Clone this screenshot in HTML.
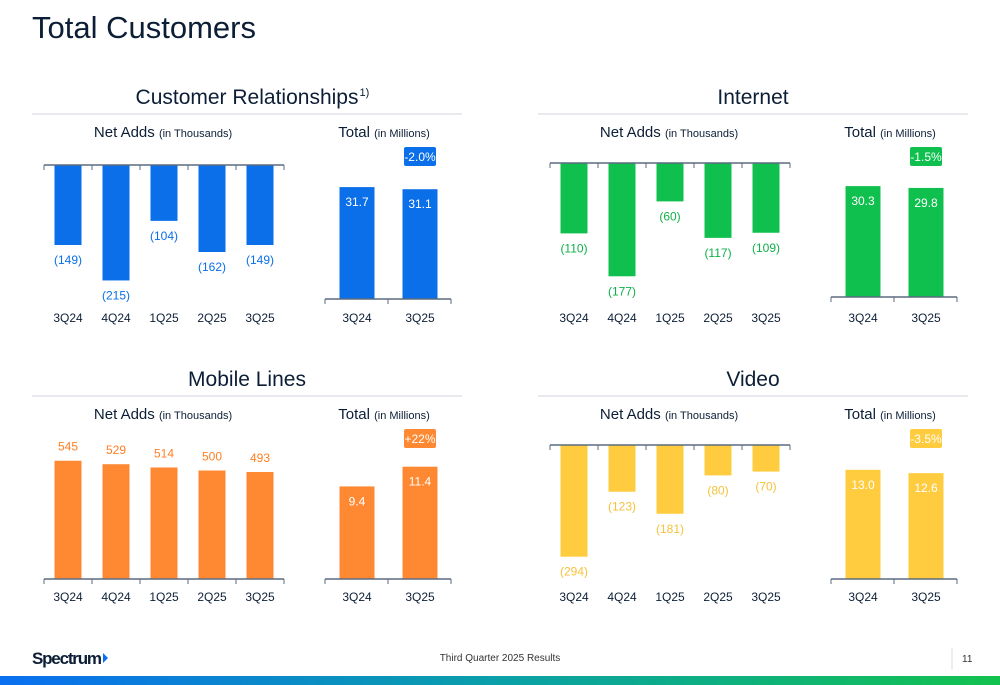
<!DOCTYPE html>
<html><head><meta charset="utf-8"><style>
body{margin:0;background:#fff;width:1000px;height:685px;overflow:hidden;font-family:"Liberation Sans",sans-serif}
svg{display:block}
svg text{font-family:"Liberation Sans",sans-serif}
</style></head><body>
<svg id="s" width="1000" height="685" viewBox="0 0 1000 685">
<defs><linearGradient id="g" x1="0" x2="1"><stop offset="0" stop-color="#0a6ff0"/><stop offset="0.5" stop-color="#0aa0a8"/><stop offset="1" stop-color="#12c24e"/></linearGradient></defs>
<text x="32" y="38" font-size="31" fill="#0c1e36">Total Customers</text>
<text x="32" y="664" font-size="17" font-weight="bold" fill="#0c1e36" textLength="70">Spectrum</text>
<polygon points="103,653 108,658 103,663" fill="#0a6ff0"/>
<text x="500" y="661" font-size="10" fill="#333" text-anchor="middle">Third Quarter 2025 Results</text>
<line x1="952" y1="648" x2="952" y2="670" stroke="#ddd"/>
<text x="962" y="662" font-size="10" fill="#333">11</text>
<rect x="0" y="676" width="1000" height="9" fill="url(#g)"/>
</svg>
<script>
const quarters=["3Q24","4Q24","1Q25","2Q25","3Q25"];
const totalQuarters=["3Q24","3Q25"];
const relAdds=[-149,-215,-104,-162,-149];
const relTotal=[31.7,31.1];
const netAdds=[-110,-177,-60,-117,-109];
const netTotal=[30.3,29.8];
const mobAdds=[545,529,514,500,493];
const mobTotal=[9.4,11.4];
const vidAdds=[-294,-123,-181,-80,-70];
const vidTotal=[13.0,12.6];
const badges=["-2.0%","-1.5%","+22%","-3.5%"];
const titles=["Customer Relationships","Internet","Mobile Lines","Video"];

const S=document.getElementById('s');const NS='http://www.w3.org/2000/svg';
function mk(t,a,txt){const e=document.createElementNS(NS,t);for(const k in a)e.setAttribute(k,a[k]);if(txt!==undefined)e.textContent=txt;S.appendChild(e);return e;}
function fmt(v){return v<0?'('+(-v)+')':String(v);}
// L: layout {ox, ty (title baseline), axY, tAx, labY, by}
function panel(i,L,adds,tot,color,lblColor,aScale,tScale){
  const ox=L.ox,ty=L.ty;
  let e=mk('text',{x:ox+215,y:ty,'font-size':21,fill:'#0c1e36','text-anchor':'middle'},titles[i]);
  
  if(i==0){const w=e.getComputedTextLength();e=mk('text',{x:ox+215+w/2+1,y:ty-8,'font-size':11,fill:'#0c1e36'},'1)');}
  e=mk('line',{x1:ox,y1:ty+10,x2:ox+430,y2:ty+10,stroke:'#e2e4e8','stroke-width':1.5});
  
  e=mk('text',{x:ox+131,y:ty+33,'font-size':15,fill:'#0c1e36','text-anchor':'middle'});
  e.innerHTML='Net Adds <tspan font-size="11">(in Thousands)</tspan>';
  
  e=mk('text',{x:ox+352,y:ty+33,'font-size':15,fill:'#0c1e36','text-anchor':'middle'});
  e.innerHTML='Total <tspan font-size="11">(in Millions)</tspan>';
  
  const axY=L.axY,tAx=L.tAx,labY=L.labY;
  adds.forEach((v,j)=>{
    const cx=ox+36+j*48,h=Math.abs(v)*aScale;
    const y=v<0?axY:axY-h;
    let r=mk('rect',{x:cx-13.5,y:y,width:27,height:h,fill:color});
    
    let t=mk('text',{x:cx,y:v<0?axY+h+19:axY-h-10,'font-size':12,fill:lblColor,'text-anchor':'middle'},fmt(v));
    
    t=mk('text',{x:cx,y:labY,'font-size':12,fill:'#0c1e36','text-anchor':'middle'},quarters[j]);
    
  });
  e=mk('line',{x1:ox+12,y1:axY,x2:ox+252,y2:axY,stroke:'#5b6b80','stroke-width':1.5});
  
  for(let k=0;k<6;k++){e=mk('line',{x1:ox+12+k*48,y1:axY,x2:ox+12+k*48,y2:axY+5,stroke:'#5b6b80'});}
  tot.forEach((v,j)=>{
    const cx=ox+325+j*63,h=v*tScale;
    let r=mk('rect',{x:cx-17.5,y:tAx-h,width:35,height:h,fill:color});
    
    let t=mk('text',{x:cx,y:tAx-h+19,'font-size':12,fill:'#fff','text-anchor':'middle'},v.toFixed(1));
    
    t=mk('text',{x:cx,y:labY,'font-size':12,fill:'#0c1e36','text-anchor':'middle'},totalQuarters[j]);
    
  });
  e=mk('line',{x1:ox+293,y1:tAx,x2:ox+419,y2:tAx,stroke:'#5b6b80','stroke-width':1.5});
  
  for(let k=0;k<3;k++){e=mk('line',{x1:ox+293+k*63,y1:tAx,x2:ox+293+k*63,y2:tAx+5,stroke:'#5b6b80'});}
  e=mk('rect',{x:ox+372,y:L.by,width:32,height:19,rx:2,fill:color});
  
  e=mk('text',{x:ox+388,y:L.by+14,'font-size':12,fill:'#fff','text-anchor':'middle'},badges[i]);
  
}
panel(0,{ox:32,ty:104,axY:165,tAx:299,labY:322,by:147},relAdds,relTotal,'#0a6fe8','#0a6fe8',0.537,3.53);
panel(1,{ox:538,ty:104,axY:163,tAx:297,labY:322,by:147},netAdds,netTotal,'#10c04e','#10b04a',0.64,3.66);
panel(2,{ox:32,ty:386,axY:579,tAx:579,labY:601,by:429},mobAdds,mobTotal,'#ff8833','#ff7f24',0.217,9.85);
panel(3,{ox:538,ty:386,axY:445,tAx:579,labY:601,by:429},vidAdds,vidTotal,'#ffcc40','#f5c23c',0.38,8.4);
</script>
</body></html>
